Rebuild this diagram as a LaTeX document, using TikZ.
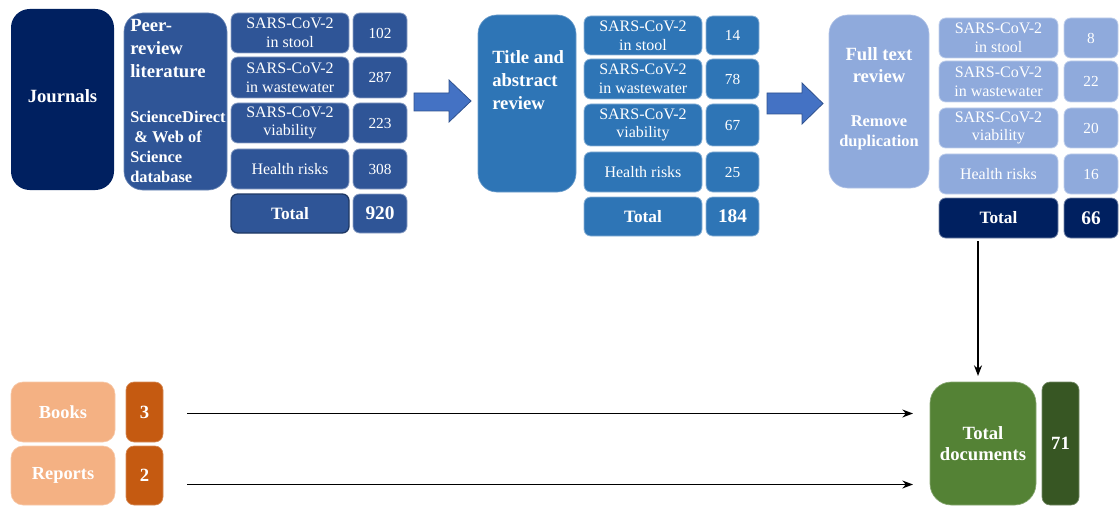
\documentclass[tikz,border=0pt]{standalone}
\usepackage{fontspec}
\setmainfont{Liberation Serif}
\usetikzlibrary{arrows.meta}
\definecolor{navy}{RGB}{0,32,96}
\definecolor{blueA}{RGB}{47,85,151}
\definecolor{blueB}{RGB}{46,117,182}
\definecolor{blueC}{RGB}{143,170,220}
\definecolor{arrowblue}{RGB}{68,114,196}
\definecolor{arrowedge}{RGB}{47,82,143}
\definecolor{orangeL}{RGB}{244,177,131}
\definecolor{orangeD}{RGB}{197,90,17}
\definecolor{greenL}{RGB}{84,130,53}
\definecolor{greenD}{RGB}{55,86,35}
\definecolor{darkedge}{RGB}{31,56,100}
\newcommand\mybox[7]{%
  \node[#1, minimum width={(#5-#3)*0.75pt}, minimum height={(#6-#4)*0.75pt}]
    (#2) at ({(#3+#5)/2},{(#4+#6)/2}) {#7};}
\tikzset{
  cat/.style={fill=#1, draw=white!45!#1, line width=0.6pt, rounded corners=5pt,
    inner sep=0pt, outer sep=0pt, text=white, align=center, font=\fontsize{12}{14}\selectfont},
  num/.style={cat=#1, font=\fontsize{11.5}{13}\selectfont},
  totbox/.style={cat=#1, font=\bfseries\fontsize{13}{15}\selectfont},
  totnum/.style={cat=#1, font=\bfseries\fontsize{14.5}{16}\selectfont},
  bigbox/.style={fill=#1, draw=white!30!#1, line width=0.5pt, rounded corners=14pt,
    inner sep=0pt, outer sep=0pt, text=white, align=center},
  heading/.style={inner sep=0pt, text=white, font=\bfseries\fontsize{14}{16.9}\selectfont},
  subhead/.style={inner sep=0pt, text=white, font=\bfseries\fontsize{12.3}{15}\selectfont},
  blockarrow/.style={fill=arrowblue, draw=arrowedge, line width=0.6pt},
  link/.style={line width=1.1pt, -{Stealth[length=8pt,width=6pt]}},
}
\begin{document}
\begin{tikzpicture}[x=0.75pt,y=-0.75pt]
\useasboundingbox (0,0) rectangle (1120,506);

% ---- Stage 1 ----
\mybox{bigbox=navy, draw=none, font=\bfseries\fontsize{14}{16}\selectfont}{jour}{11}{9}{114}{190}{\raisebox{4.5pt}{Journals}}
\mybox{bigbox=blueA}{peer}{124}{13}{227}{190}{}
\node[heading, align=left, anchor=north west] (peert) at (130,19.5) {Peer-\\review\\literature};
\node[subhead, align=left, anchor=north west] (peerdb) at (130,111) {ScienceDirect\\\ \& Web of\\Science\\database};

\mybox{cat=blueA}{a1}{231}{13}{349}{53}{SARS-CoV-2\\in stool}
\mybox{num=blueA}{an1}{353}{13}{407}{53}{102}
\mybox{cat=blueA}{a2}{231}{57}{349}{98}{SARS-CoV-2\\in wastewater}
\mybox{num=blueA}{an2}{353}{57}{407}{98}{287}
\mybox{cat=blueA}{a3}{231}{103}{349}{143}{SARS-CoV-2\\viability}
\mybox{num=blueA}{an3}{353}{103}{407}{143}{223}
\mybox{cat=blueA}{a4}{231}{149}{349}{189}{Health risks}
\mybox{num=blueA}{an4}{353}{149}{407}{189}{308}
\mybox{totbox=blueA, draw=darkedge, line width=1pt}{a5}{231}{194}{349}{233}{Total}
\mybox{totnum=blueA}{an5}{353}{194}{407}{233}{920}

\path[blockarrow] (414,93) -- (449,93) -- (449,80) -- (471,101) -- (449,122) -- (449,111) -- (414,111) -- cycle;

% ---- Stage 2 ----
\mybox{bigbox=blueB}{tit}{478}{15}{576}{192}{}
\node[heading, align=left, anchor=north west, font=\bfseries\fontsize{14}{17.3}\selectfont] (titt) at (492,50) {Title and\\abstract\\review};

\mybox{cat=blueB}{b1}{584}{16}{702}{55}{SARS-CoV-2\\in stool}
\mybox{num=blueB}{bn1}{706}{16}{759}{55}{14}
\mybox{cat=blueB}{b2}{584}{59}{702}{99}{SARS-CoV-2\\in wastewater}
\mybox{num=blueB}{bn2}{706}{59}{759}{99}{78}
\mybox{cat=blueB}{b3}{584}{104}{702}{146}{SARS-CoV-2\\viability}
\mybox{num=blueB}{bn3}{706}{104}{759}{146}{67}
\mybox{cat=blueB}{b4}{584}{152}{702}{192}{Health risks}
\mybox{num=blueB}{bn4}{706}{152}{759}{192}{25}
\mybox{totbox=blueB}{b5}{584}{197}{702}{236}{Total}
\mybox{totnum=blueB}{bn5}{706}{197}{759}{236}{184}

\path[blockarrow] (767,93) -- (802,93) -- (802,83) -- (823,103.5) -- (802,124) -- (802,114) -- (767,114) -- cycle;

% ---- Stage 3 ----
\mybox{bigbox=blueC}{full}{829}{15}{929}{188}{}
\node[heading, align=center, anchor=north] (fullt) at (879,47) {Full text\\review};
\node[subhead, align=center, anchor=north] (fullr) at (879,115) {Remove\\duplication};

\mybox{cat=blueC}{c1}{939}{18}{1058}{58}{SARS-CoV-2\\in stool}
\mybox{num=blueC}{cn1}{1064}{18}{1118}{58}{8}
\mybox{cat=blueC}{c2}{939}{61}{1058}{102}{SARS-CoV-2\\in wastewater}
\mybox{num=blueC}{cn2}{1064}{61}{1118}{102}{22}
\mybox{cat=blueC}{c3}{939}{108}{1058}{148}{SARS-CoV-2\\viability}
\mybox{num=blueC}{cn3}{1064}{108}{1118}{148}{20}
\mybox{cat=blueC}{c4}{939}{154}{1058}{194}{Health risks}
\mybox{num=blueC}{cn4}{1064}{154}{1118}{194}{16}
\mybox{totbox=navy}{c5}{939}{198}{1058}{238}{Total}
\mybox{totnum=navy}{cn5}{1064}{198}{1118}{238}{66}

% ---- Bottom row ----
\mybox{bigbox=orangeL, rounded corners=9pt, font=\bfseries\fontsize{13.8}{16}\selectfont}{books}{11}{382}{115}{442}{Books}
\mybox{bigbox=orangeD, rounded corners=6pt, font=\bfseries\fontsize{14}{16}\selectfont}{nb}{126}{382}{163}{442}{3}
\mybox{bigbox=orangeL, rounded corners=9pt, font=\bfseries\fontsize{13.8}{16}\selectfont}{reports}{11}{446}{115}{505}{\raisebox{-2pt}{Reports}}
\mybox{bigbox=orangeD, rounded corners=6pt, font=\bfseries\fontsize{14}{16}\selectfont}{nr}{126}{446}{163}{505}{\raisebox{-1.5pt}{2}}

\mybox{bigbox=greenL, rounded corners=16pt, font=\bfseries\fontsize{14}{16}\selectfont}{td}{930}{382}{1036}{505}{Total\\documents}
\mybox{bigbox=greenD, rounded corners=6pt, font=\bfseries\fontsize{14}{16}\selectfont}{ntd}{1042}{382}{1079}{505}{\raisebox{-3pt}{71}}

% ---- Connectors ----
\coordinate (vstart) at (978,241);
\draw[link, shorten >=4.5pt] (vstart) -- (vstart |- td.north);
\coordinate (bstart) at (187,413.5);
\coordinate (rstart) at (187,484.5);
\draw[link, shorten >=12.75pt] (bstart) -- (bstart -| td.west);
\draw[link, shorten >=12.75pt] (rstart) -- (rstart -| td.west);
\end{tikzpicture}
\end{document}
